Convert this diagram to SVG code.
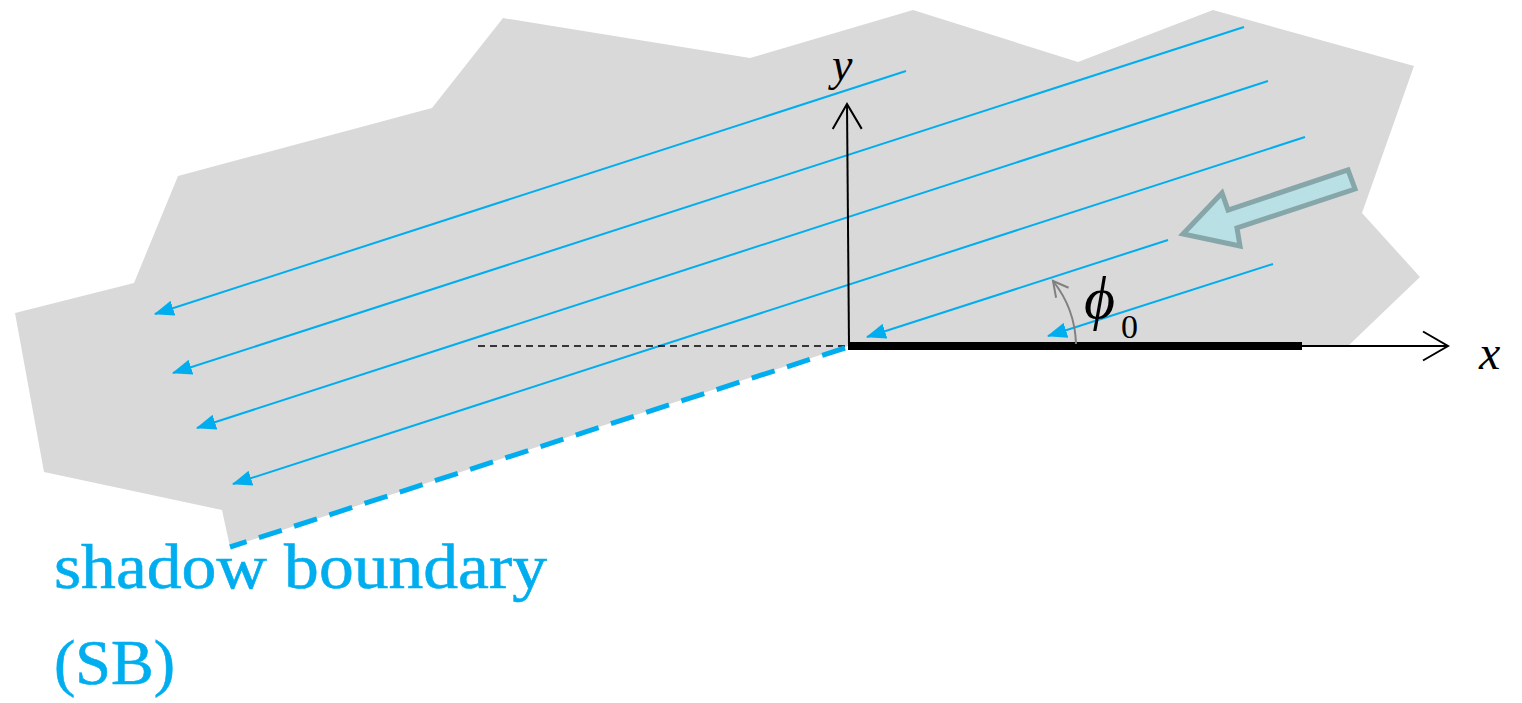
<svg xmlns="http://www.w3.org/2000/svg" width="1522" height="703" viewBox="0 0 1522 703">
<style>
.ray{stroke:#00aeef;stroke-width:2;fill:none;marker-end:url(#blueHead)}
.axis{stroke:#000;stroke-width:2;fill:none}
.lbl{font-family:"Liberation Serif","DejaVu Serif",serif;font-style:italic;fill:#000}
.sb{font-family:"Liberation Serif","DejaVu Serif",serif;fill:#00aeef;stroke:#00aeef;stroke-width:0.6}
</style>
<defs>
<marker id="blueHead" markerUnits="userSpaceOnUse" markerWidth="20" markerHeight="16" viewBox="0 0 18 14" refX="17" refY="7" orient="auto">
<path d="M0,0 L18,7 L0,14 Z" fill="#00aeef"/>
</marker>
<marker id="openHead" markerUnits="userSpaceOnUse" markerWidth="30" markerHeight="34" viewBox="0 0 30 34" refX="27" refY="17" orient="auto">
<path d="M2,2.5 L27,17 L2,31.5" fill="none" stroke="#000" stroke-width="2"/>
</marker>
<marker id="grayHead" markerUnits="userSpaceOnUse" markerWidth="20" markerHeight="20" viewBox="0 0 20 20" refX="17" refY="10" orient="auto">
<path d="M2,2 L17,10 L2,18" fill="none" stroke="#808080" stroke-width="2"/>
</marker>
</defs>
<rect width="1522" height="703" fill="#fff"/>
<g id="region">
<polygon points="503,18 750,58 913,10 1078,62 1213,10 1414,66 1362,213 1420,277 1348,346 848,346 230,547 222,510 44,472 15,313 134,283 178,176 432,108" fill="#d9d9d9"/>
</g>
<g id="connectors">
<line class="ray" x1="906" y1="71" x2="155" y2="314"/>
<line class="ray" x1="1244" y1="27" x2="173" y2="373"/>
<line class="ray" x1="1268" y1="81" x2="197" y2="428"/>
<line class="ray" x1="1305" y1="137" x2="233" y2="484"/>
<line class="ray" x1="1168" y1="240" x2="867" y2="337"/>
<line class="ray" x1="1273" y1="264" x2="1048" y2="336"/>
<line x1="478" y1="346" x2="848" y2="346" stroke="#000" stroke-width="1.5" stroke-dasharray="7 5"/>
<line id="shadow-boundary" x1="845" y1="348" x2="230" y2="547" stroke="#00aeef" stroke-width="5" stroke-dasharray="24 13"/>
<line id="y-axis" class="axis" x1="849" y1="346" x2="847" y2="104" marker-end="url(#openHead)"/>
<line id="x-axis" class="axis" x1="848" y1="346" x2="1448" y2="346" marker-end="url(#openHead)"/>
<line id="plate" x1="848" y1="346" x2="1302" y2="346" stroke="#000" stroke-width="8"/>
<path id="angle-arc" d="M1076,344 A106,106 0 0 0 1053,281" fill="none" stroke="#808080" stroke-width="2" marker-end="url(#grayHead)"/>
</g>
<g id="incident-arrow">
<polygon points="1183,234 1222,193 1228,210 1348,170 1355,189 1237,228 1240,246" fill="#b9e0e4" stroke="#86a6a9" stroke-width="5" stroke-linejoin="miter"/>
</g>
<g id="labels">
<text class="lbl" x="832" y="80" font-size="46">y</text>
<text class="lbl" x="1479" y="369" font-size="48">x</text>
<text class="lbl" x="1084" y="318" font-size="60">ϕ</text>
<text font-family="Liberation Serif, DejaVu Serif, serif" x="1121" y="338" font-size="34" fill="#000">0</text>
<text class="sb" x="54" y="588" font-size="64" textLength="493" lengthAdjust="spacingAndGlyphs">shadow boundary</text>
<text class="sb" x="54" y="684" font-size="64" textLength="121" lengthAdjust="spacingAndGlyphs">(SB)</text>
</g>
</svg>
